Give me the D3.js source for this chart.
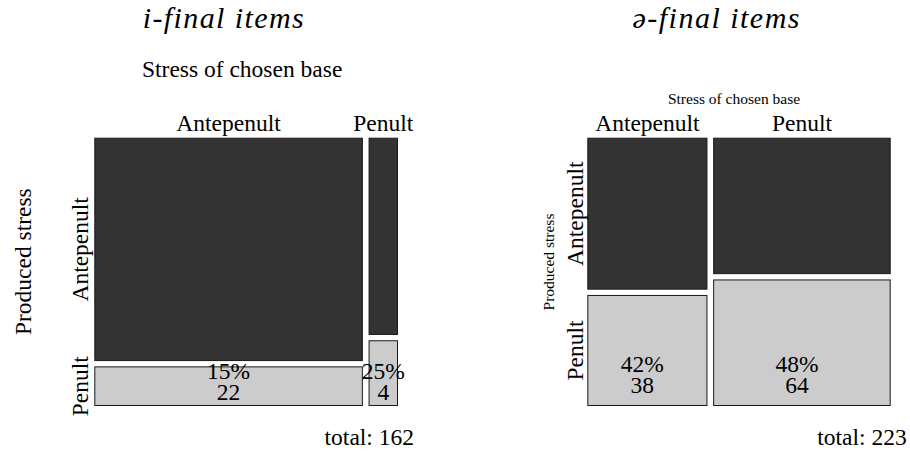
<!DOCTYPE html>
<html>
<head>
<meta charset="utf-8">
<script src="https://cdn.jsdelivr.net/npm/d3@7"></script>
<style>
  body { margin: 0; background: #fff; }
  svg text { font-family: 'Liberation Serif', 'Times New Roman', serif; fill: #000; }
</style>
</head>
<body>
<svg id="chart"></svg>
<script>
// categories
const baseStress = ['Antepenult', 'Penult']       // columns: stress of chosen base
const producedStress = ['Antepenult', 'Penult']   // rows: produced stress
const panelTitles = ['i-final items', 'ə-final items']

// counts per base column: [produced antepenult, produced penult]
const iFinalCounts = [[124, 22], [12, 4]]
const schwaFinalCounts = [[52, 38], [69, 64]]

const width = 910
const height = 454

// layout of each panel
const panels = [
  {
    title: panelTitles[0], counts: iFinalCounts,
    x0: 94.3, x1: 398, titleLen: 161,
    subSize: 23.5, subY: 77, subDx: -4,
    yLabSize: 23.5, yLabX: 31, yLabY: 261.7,
    rowLabPad: 6, cellLift: 6, cellDx: 0
  },
  {
    title: panelTitles[1], counts: schwaFinalCounts,
    x0: 587.3, x1: 890.7, titleLen: 167,
    subSize: 15.5, subY: 104, subDx: -5,
    yLabSize: 15.5, yLabX: 554, yLabY: 262,
    rowLabPad: 4, cellLift: 12.7, cellDx: -5
  }
]

const mosaicTop = 137.7
const mosaicBottom = 406
const gapX = 5.7
const gapY = 5.3
const fills = ['#333333', '#cccccc']
const fontSize = 23.5

const svg = d3.select('#chart')
  .attr('width', width)
  .attr('height', height)

panels.forEach(p => {
  const g = svg.append('g')
  const colTotals = p.counts.map(c => d3.sum(c))
  const total = d3.sum(colTotals)
  const colStarts = d3.cumsum([0, ...colTotals])
  const mid = (p.x0 + p.x1) / 2

  const xScale = d3.scaleLinear()
    .domain([0, total])
    .range([p.x0, p.x1 - gapX * (colTotals.length - 1)])

  const cells = []
  p.counts.forEach((col, i) => {
    const yScale = d3.scaleLinear()
      .domain([0, colTotals[i]])
      .range([mosaicTop, mosaicBottom - gapY * (col.length - 1)])
    const rowStarts = d3.cumsum([0, ...col])
    col.forEach((n, j) => {
      cells.push({
        col: i, row: j, n,
        pct: n / colTotals[i],
        x: xScale(colStarts[i]) + i * gapX,
        w: xScale(colStarts[i + 1]) - xScale(colStarts[i]),
        y: yScale(rowStarts[j]) + j * gapY,
        h: yScale(rowStarts[j + 1]) - yScale(rowStarts[j])
      })
    })
  })

  g.selectAll('rect.cell')
    .data(cells)
    .enter()
    .append('rect')
    .attr('class', 'cell')
    .attr('x', d => d.x + 0.5)
    .attr('y', d => d.y + 0.5)
    .attr('width', d => d.w - 1)
    .attr('height', d => d.h - 1)
    .attr('fill', d => fills[d.row])
    .attr('stroke', '#1a1a1a')
    .attr('stroke-width', 1)

  // title
  g.append('text')
    .attr('x', mid - 23)
    .attr('y', 28.3)
    .attr('text-anchor', 'middle')
    .attr('font-style', 'italic')
    .attr('font-size', 30)
    .attr('textLength', p.titleLen)
    .attr('lengthAdjust', 'spacing')
    .text(p.title)

  // variable names
  g.append('text')
    .attr('x', mid + p.subDx)
    .attr('y', p.subY)
    .attr('text-anchor', 'middle')
    .attr('font-size', p.subSize)
    .text('Stress of chosen base')

  g.append('text')
    .attr('transform', `translate(${p.yLabX}, ${p.yLabY}) rotate(-90)`)
    .attr('text-anchor', 'middle')
    .attr('font-size', p.yLabSize)
    .text('Produced stress')

  // column labels
  const firstRow = cells.filter(d => d.row === 0)
  g.selectAll('text.col')
    .data(firstRow)
    .enter()
    .append('text')
    .attr('class', 'col')
    .attr('x', d => d.x + d.w / 2)
    .attr('y', 130.5)
    .attr('text-anchor', 'middle')
    .attr('font-size', fontSize)
    .text(d => baseStress[d.col])

  // row labels, aligned on the first column
  const firstCol = cells.filter(d => d.col === 0)
  g.selectAll('text.row')
    .data(firstCol)
    .enter()
    .append('text')
    .attr('class', 'row')
    .attr('transform', d => `translate(${p.x0 - p.rowLabPad}, ${d.y + d.h / 2}) rotate(-90)`)
    .attr('text-anchor', 'middle')
    .attr('font-size', fontSize)
    .text(d => producedStress[d.row])

  // percent and count for produced penult
  const fmt = d3.format('.0%')
  const labelled = cells.filter(d => d.row === 1)
  const lab = g.selectAll('text.val')
    .data(labelled)
    .enter()
    .append('text')
    .attr('class', 'val')
    .attr('text-anchor', 'middle')
    .attr('font-size', fontSize)
  lab.append('tspan')
    .attr('x', d => d.x + d.w / 2 + p.cellDx)
    .attr('y', mosaicBottom - p.cellLift - 21)
    .text(d => fmt(d.pct))
  lab.append('tspan')
    .attr('x', d => d.x + d.w / 2 + p.cellDx)
    .attr('y', mosaicBottom - p.cellLift)
    .text(d => d.n)

  g.append('text')
    .attr('x', p.x1 + 16)
    .attr('y', 445)
    .attr('text-anchor', 'end')
    .attr('font-size', fontSize)
    .text(`total: ${total}`)
})
</script>
</body>
</html>
